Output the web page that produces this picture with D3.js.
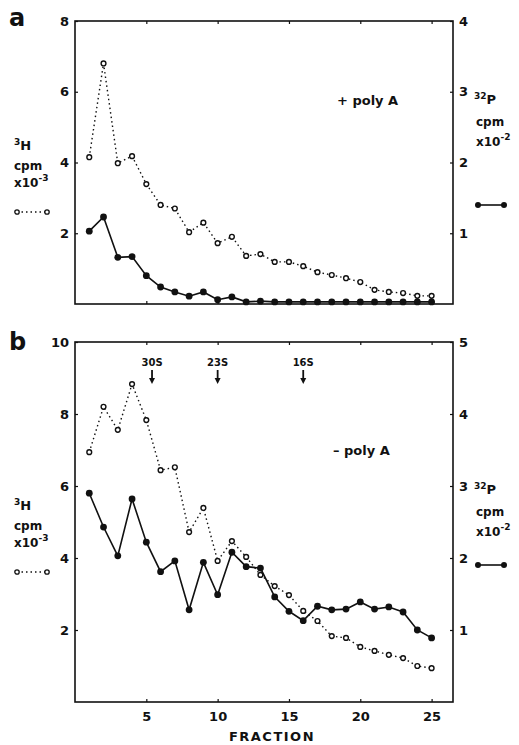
<!DOCTYPE html>
<html>
<head>
<meta charset="utf-8">
<script src="https://cdn.jsdelivr.net/npm/d3@7"></script>
<style>
  body { margin: 0; background: #fff; }
  svg text { font-family: "DejaVu Sans", sans-serif; font-weight: bold; fill: #111; }
</style>
</head>
<body>
<div id="chart"></div>
<script>
// fraction numbers (x categories)
var fractions = [1,2,3,4,5,6,7,8,9,10,11,12,13,14,15,16,17,18,19,20,21,22,23,24,25];
var xTicks = [5, 10, 15, 20, 25];

// panel a : + poly A   (3H on left axis x10^-3, 32P on right axis x10^-2)
var aH3  = [4.15, 6.8, 3.98, 4.18, 3.39, 2.8, 2.7, 2.03, 2.3, 1.72, 1.9, 1.36, 1.41, 1.19, 1.19, 1.07, 0.9, 0.82, 0.73, 0.62, 0.4, 0.34, 0.31, 0.23, 0.23];
var aP32 = [1.03, 1.23, 0.66, 0.67, 0.4, 0.24, 0.17, 0.11, 0.17, 0.06, 0.1, 0.03, 0.04, 0.03, 0.03, 0.03, 0.03, 0.03, 0.03, 0.03, 0.03, 0.03, 0.03, 0.03, 0.03];
var aLeftTicks  = [2, 4, 6, 8];
var aRightTicks = [1, 2, 3, 4];

// panel b : - poly A
var bH3  = [6.94, 8.2, 7.56, 8.83, 7.83, 6.44, 6.52, 4.72, 5.39, 3.92, 4.47, 4.03, 3.53, 3.22, 2.97, 2.53, 2.25, 1.83, 1.78, 1.53, 1.42, 1.31, 1.22, 1.0, 0.94];
var bP32 = [2.9, 2.43, 2.03, 2.82, 2.22, 1.81, 1.96, 1.28, 1.94, 1.49, 2.08, 1.88, 1.86, 1.46, 1.26, 1.13, 1.33, 1.28, 1.29, 1.39, 1.29, 1.32, 1.25, 1.0, 0.89];
var bLeftTicks  = [2, 4, 6, 8, 10];
var bRightTicks = [1, 2, 3, 4, 5];

// sedimentation markers in panel b
var markers = [
  {label: "30S", frac: 5.4},
  {label: "23S", frac: 10},
  {label: "16S", frac: 16}
];

var W = 519, H = 745;
var svg = d3.select("#chart").append("svg")
    .attr("width", W)
    .attr("height", H);

var x = d3.scaleLinear().domain([0, 26.5]).range([75, 453]);

function drawPanel(p) {
  var yL = d3.scaleLinear().domain([0, p.leftMax]).range([p.bottom, p.top]);
  var yR = d3.scaleLinear().domain([0, p.leftMax / 2]).range([p.bottom, p.top]);
  var g = svg.append("g");

  // frame
  g.append("rect")
      .attr("x", x.range()[0]).attr("y", p.top)
      .attr("width", x.range()[1] - x.range()[0])
      .attr("height", p.bottom - p.top)
      .attr("fill", "none").attr("stroke", "#111").attr("stroke-width", 1.6);

  // left axis
  var la = g.append("g").attr("transform", "translate(" + x.range()[0] + ",0)")
      .call(d3.axisLeft(yL).tickValues(p.leftTicks).tickSize(-3).tickPadding(6).tickFormat(d3.format("d")));
  la.select(".domain").remove();
  la.selectAll("text").style("font-size", "13px");

  // right axis
  var ra = g.append("g").attr("transform", "translate(" + x.range()[1] + ",0)")
      .call(d3.axisRight(yR).tickValues(p.rightTicks).tickSize(-3).tickPadding(6).tickFormat(d3.format("d")));
  ra.select(".domain").remove();
  ra.selectAll("text").style("font-size", "13px");

  // top ticks
  var ta = g.append("g").attr("transform", "translate(0," + p.top + ")")
      .call(d3.axisTop(x).tickValues(xTicks).tickSize(-3).tickFormat(""));
  ta.select(".domain").remove();

  // bottom ticks (labels only on lower panel)
  var ba = g.append("g").attr("transform", "translate(0," + p.bottom + ")")
      .call(d3.axisBottom(x).tickValues(xTicks).tickSize(-3).tickPadding(10)
        .tickFormat(p.xLabels ? d3.format("d") : ""));
  ba.select(".domain").remove();
  ba.selectAll("text").style("font-size", "13px");
  g.selectAll(".tick line").attr("stroke", "#111").attr("stroke-width", 1.2);

  // 3H : open circles, dotted line
  var lineL = d3.line().x(function(d, i) { return x(fractions[i]); }).y(function(d) { return yL(d); });
  var lineR = d3.line().x(function(d, i) { return x(fractions[i]); }).y(function(d) { return yR(d); });

  g.append("path").datum(p.h3).attr("d", lineL)
      .attr("fill", "none").attr("stroke", "#111").attr("stroke-width", 1.4)
      .attr("stroke-dasharray", "1.5,3");
  g.append("path").datum(p.p32).attr("d", lineR)
      .attr("fill", "none").attr("stroke", "#111").attr("stroke-width", 1.6);

  g.selectAll(".dotP").data(p.p32).enter().append("circle")
      .attr("cx", function(d, i) { return x(fractions[i]); })
      .attr("cy", function(d) { return yR(d); })
      .attr("r", 3.4).attr("fill", "#111");
  g.selectAll(".dotH").data(p.h3).enter().append("circle")
      .attr("cx", function(d, i) { return x(fractions[i]); })
      .attr("cy", function(d) { return yL(d); })
      .attr("r", 2.4).attr("fill", "#fff").attr("stroke", "#111").attr("stroke-width", 1.4);

  // panel letter
  g.append("text").attr("x", 9).attr("y", p.letterY)
      .style("font-size", "24px").text(p.letter);

  // condition label
  g.append("text").attr("x", p.condX).attr("y", p.condY)
      .style("font-size", "13px").text(p.cond);

  // left legend block
  var lt = g.append("g").attr("transform", "translate(14," + p.legL + ")");
  var t1 = lt.append("text").attr("y", 0).style("font-size", "13px");
  t1.append("tspan").text("3").style("font-size", "9px").attr("dy", -5);
  t1.append("tspan").text("H").attr("dy", 5);
  lt.append("text").attr("y", 20).style("font-size", "12px").text("cpm");
  var t3 = lt.append("text").attr("y", 37).style("font-size", "12px");
  t3.append("tspan").text("x10");
  t3.append("tspan").text("-3").style("font-size", "9px").attr("dy", -6);
  lt.append("line").attr("x1", 3).attr("x2", 33).attr("y1", 62).attr("y2", 62)
      .attr("stroke", "#111").attr("stroke-width", 1.3).attr("stroke-dasharray", "1.5,3");
  lt.selectAll("circle").data([3, 33]).enter().append("circle")
      .attr("cx", function(d) { return d; }).attr("cy", 62).attr("r", 2.2)
      .attr("fill", "#fff").attr("stroke", "#111").attr("stroke-width", 1.3);

  // right legend block
  var rt = g.append("g").attr("transform", "translate(474," + p.legR + ")");
  var r1 = rt.append("text").attr("y", 0).style("font-size", "13px");
  r1.append("tspan").text("32").style("font-size", "9px").attr("dy", -5);
  r1.append("tspan").text("P").attr("dy", 5);
  rt.append("text").attr("x", 2).attr("y", 22).style("font-size", "12px").text("cpm");
  var r3 = rt.append("text").attr("x", 2).attr("y", 42).style("font-size", "12px");
  r3.append("tspan").text("x10");
  r3.append("tspan").text("-2").style("font-size", "9px").attr("dy", -6);
  rt.append("line").attr("x1", 4).attr("x2", 30).attr("y1", p.legRLine).attr("y2", p.legRLine)
      .attr("stroke", "#111").attr("stroke-width", 1.6);
  rt.selectAll("circle").data([4, 30]).enter().append("circle")
      .attr("cx", function(d) { return d; }).attr("cy", p.legRLine).attr("r", 3)
      .attr("fill", "#111");

  return g;
}

drawPanel({
  letter: "a", letterY: 26, top: 21, bottom: 304, leftMax: 8,
  leftTicks: aLeftTicks, rightTicks: aRightTicks,
  h3: aH3, p32: aP32, xLabels: false,
  cond: "+ poly A", condX: 337, condY: 105,
  legL: 150, legR: 104, legRLine: 101
});

var gb = drawPanel({
  letter: "b", letterY: 350, top: 342, bottom: 702, leftMax: 10,
  leftTicks: bLeftTicks, rightTicks: bRightTicks,
  h3: bH3, p32: bP32, xLabels: true,
  cond: "\u2013 poly A", condX: 333, condY: 455,
  legL: 510, legR: 494, legRLine: 71
});

// S-value markers with arrows
var mk = gb.selectAll(".mk").data(markers).enter().append("g")
    .attr("transform", function(d) { return "translate(" + x(d.frac) + ",0)"; });
mk.append("text").attr("y", 366).attr("text-anchor", "middle")
    .style("font-size", "10px").text(function(d) { return d.label; });
mk.append("line").attr("x1", 0).attr("x2", 0).attr("y1", 370).attr("y2", 380)
    .attr("stroke", "#111").attr("stroke-width", 1.8);
mk.append("path").attr("d", "M-3,378L3,378L0,384Z").attr("fill", "#111");

// x axis title
svg.append("text").attr("x", 272).attr("y", 741).attr("text-anchor", "middle")
    .style("font-size", "13px").style("letter-spacing", "1.5px").text("FRACTION");
</script>
</body>
</html>
